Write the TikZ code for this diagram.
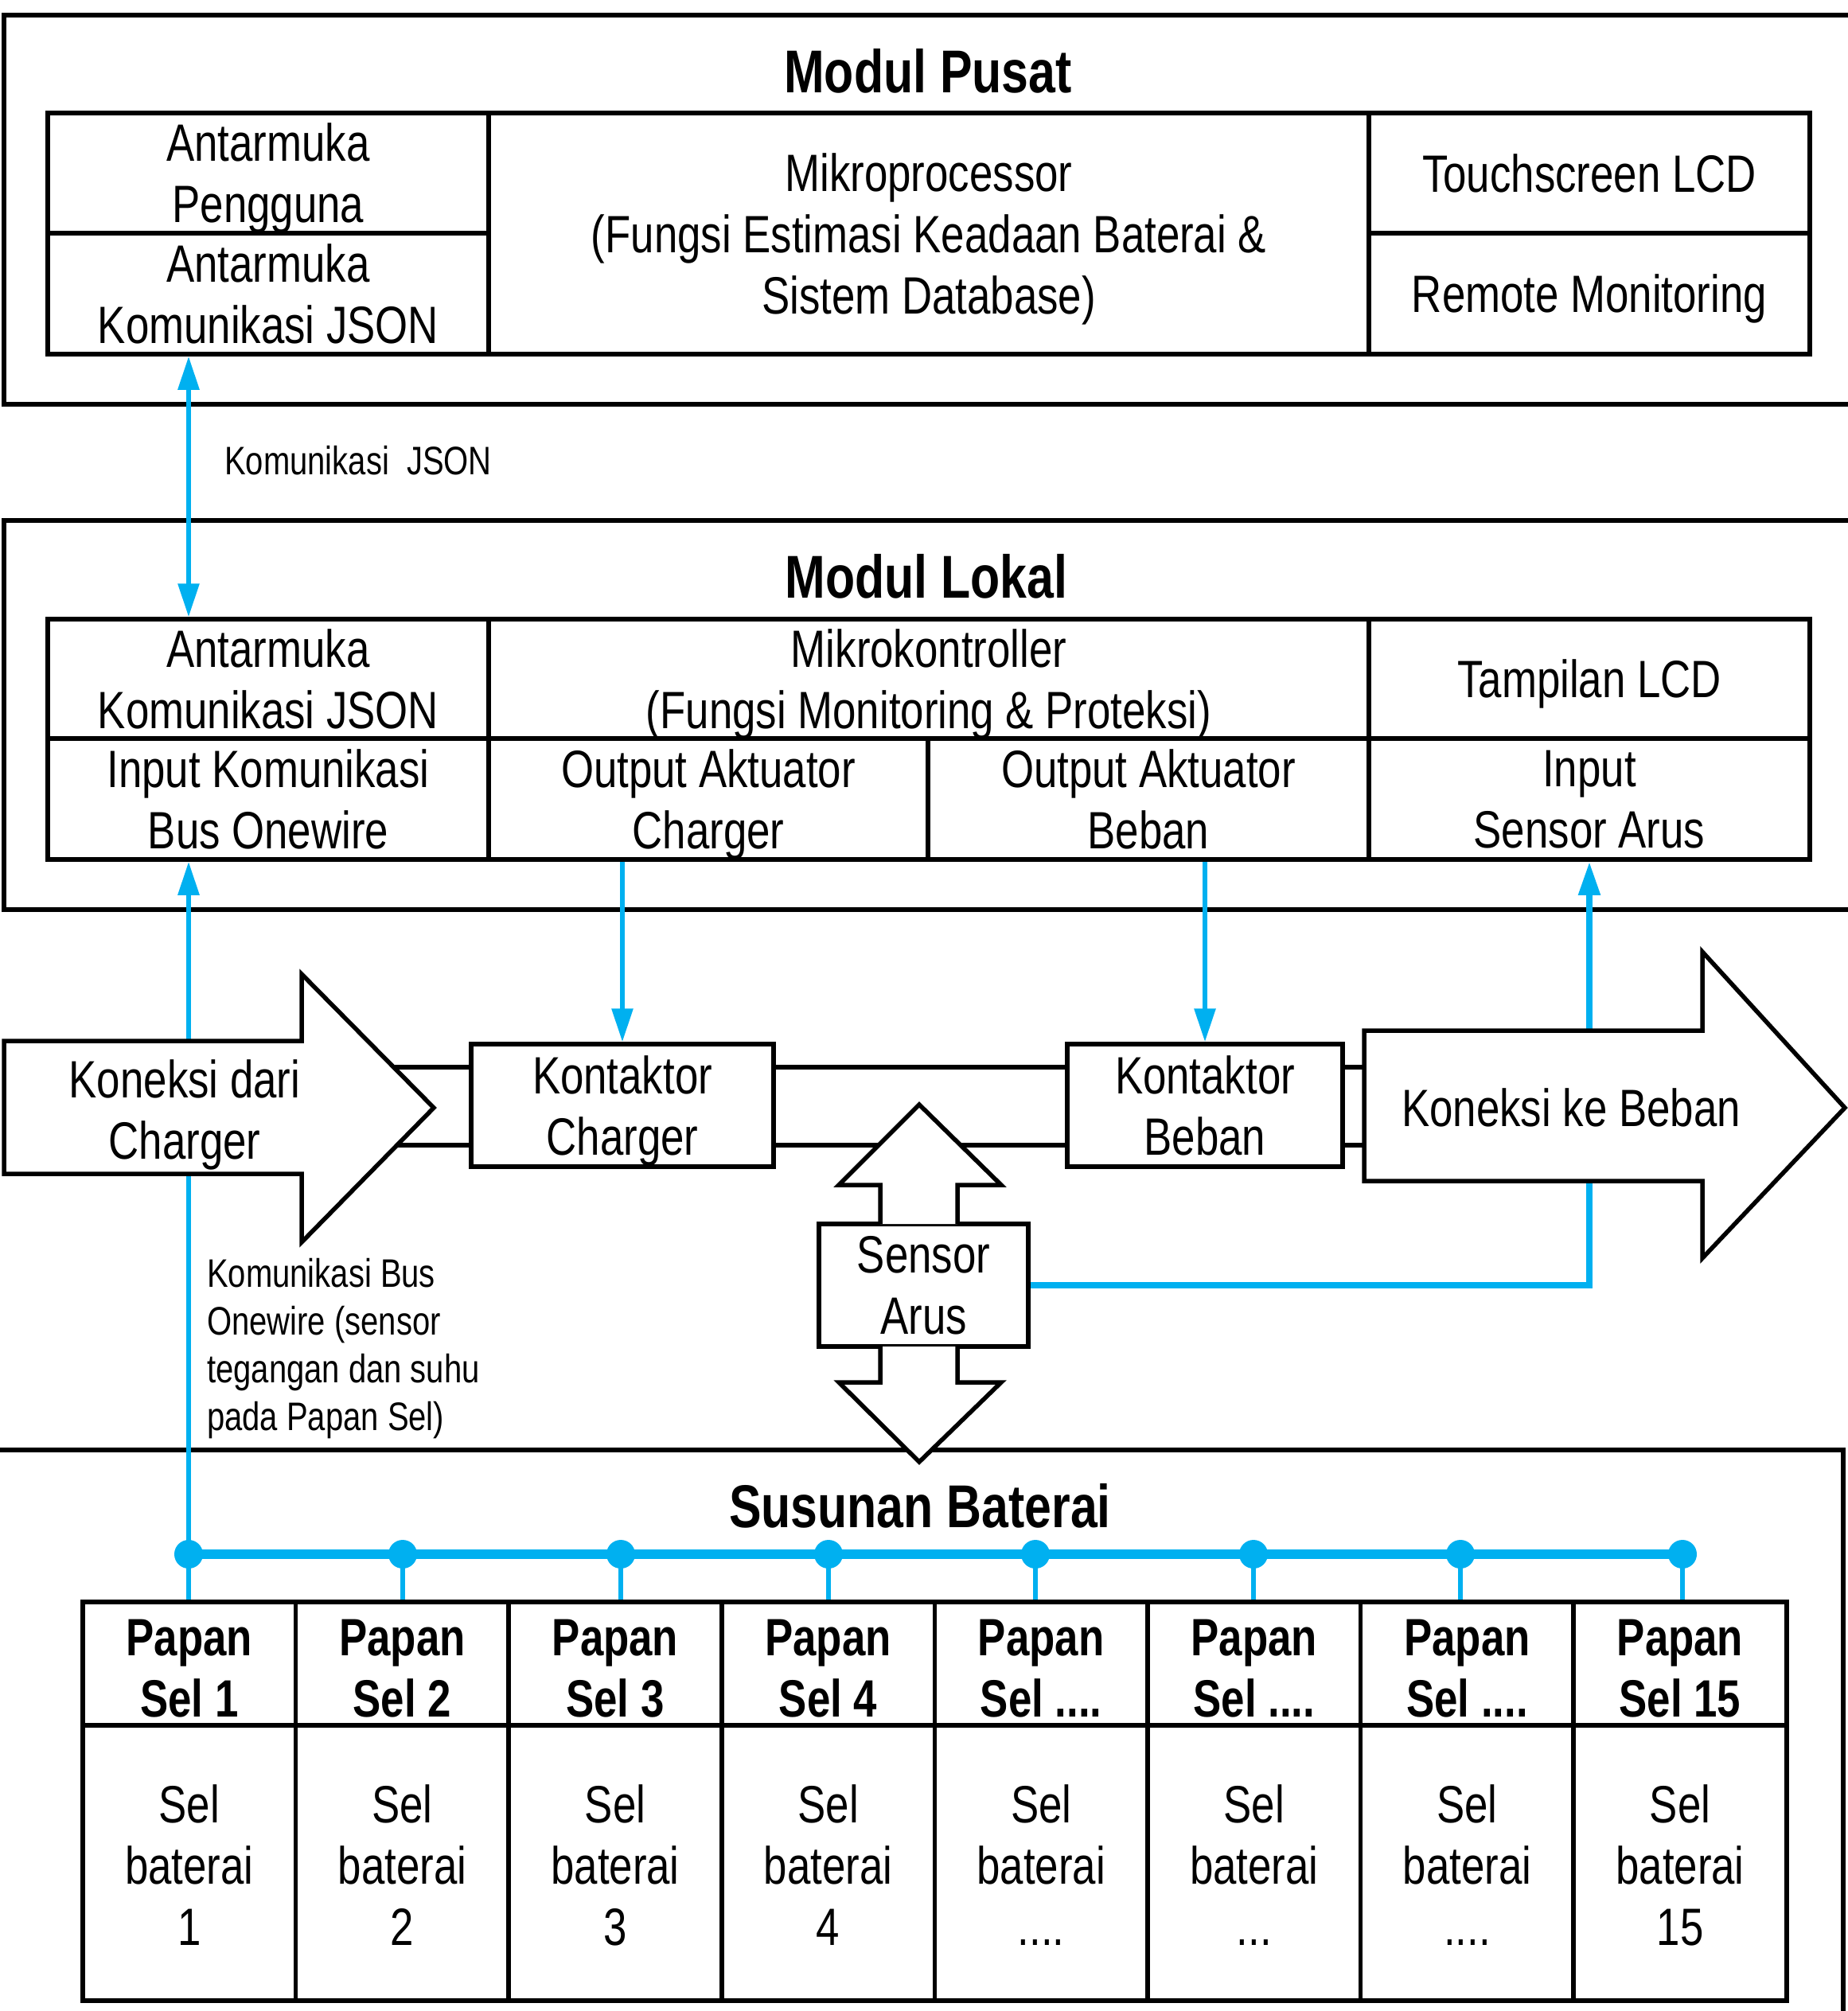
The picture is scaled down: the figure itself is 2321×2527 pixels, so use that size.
\documentclass[tikz,border=0pt]{standalone}
\usepackage{fontspec}
\setmainfont[FakeStretch=0.8]{Liberation Sans}
\usetikzlibrary{arrows.meta,calc}
\definecolor{bluec}{HTML}{00B0F0}
\newcommand\ftitle{\fontsize{76}{90}\selectfont\bfseries}
\newcommand\fbody{\fontsize{66}{77}\selectfont}
\newcommand\fsmall{\fontsize{50}{60}\selectfont}
\begin{document}
\begin{tikzpicture}[x=1pt,y=-1pt,
  box/.style={draw, line width=5.5pt},
  cell/.style={draw, line width=5.5pt, rectangle, inner sep=0pt, align=center, font=\fbody, text depth=0pt},
  wire/.style={line width=5.5pt},
  shp/.style={draw, line width=5.5pt, fill=white, line join=miter},
  blu/.style={draw=bluec, line width=6pt},
  tip/.style={-{Triangle[length=42pt,width=26pt]}},
  dtip/.style={{Triangle[length=42pt,width=26pt]}-{Triangle[length=42pt,width=26pt]}},
  lbl/.style={inner sep=0pt, align=center, font=\fbody, text depth=0pt}]
\useasboundingbox (0,0) rectangle (2321,2527);

% ---------- Modul Pusat ----------
\draw[box] (5,19) rectangle (2420,508);
\node[inner sep=0pt, font=\ftitle] (tpusat) at (1166,89) {Modul Pusat};
\node[cell, minimum width=554pt, minimum height=151pt] (pAU) at (337,217.5) {Antarmuka\\Pengguna};
\node[cell, minimum width=554pt, minimum height=152pt] (pAK) at (337,369) {Antarmuka\\Komunikasi JSON};
\node[cell, minimum width=1106pt, minimum height=303pt] (pMP) at (1167,293.5) {Mikroprocessor\\(Fungsi Estimasi Keadaan Baterai \&\\Sistem Database)};
\node[cell, minimum width=554pt, minimum height=151pt] (pLCD) at (1997,217.5) {Touchscreen LCD};
\node[cell, minimum width=554pt, minimum height=152pt] (pRM) at (1997,369) {Remote Monitoring};

% ---------- Modul Lokal ----------
\draw[box] (5,654) rectangle (2420,1143);
\node[inner sep=0pt, font=\ftitle] (tlokal) at (1164,724) {Modul Lokal};
\node[cell, minimum width=554pt, minimum height=150pt] (lAK) at (337,853) {Antarmuka\\Komunikasi JSON};
\node[cell, minimum width=1106pt, minimum height=150pt] (lMK) at (1167,853) {Mikrokontroller\\(Fungsi Monitoring \& Proteksi)};
\node[cell, minimum width=554pt, minimum height=150pt] (lLCD) at (1997,853) {Tampilan LCD};
\node[cell, minimum width=554pt, minimum height=152pt] (lIK) at (337,1004) {Input Komunikasi\\Bus Onewire};
\node[cell, minimum width=552pt, minimum height=152pt] (lOC) at (890,1004) {Output Aktuator\\Charger};
\node[cell, minimum width=554pt, minimum height=152pt] (lOB) at (1443,1004) {Output Aktuator\\Beban};
\node[cell, minimum width=554pt, minimum height=152pt] (lIS) at (1997,1004) {Input\\Sensor Arus};

% ---------- Susunan Baterai ----------
\draw[box] (-10,1822) rectangle (2316,2620);
\node[inner sep=0pt, font=\ftitle] (tsusun) at (1156,1892) {Susunan Baterai};

\foreach \i/\dx/\h/\b in {1/237/{Sel 1}/1, 2/506/{Sel 2}/2, 3/780/{Sel 3}/3, 4/1041/{Sel 4}/4,
  5/1301/{Sel ....}/{....}, 6/1575/{Sel ....}/{...}, 7/1835/{Sel ....}/{....}, 8/2114/{Sel 15}/15}{
  \pgfmathsetmacro\cx{104+267.6*(\i-1)+133.8}
  \node[cell, minimum width=267.6pt, minimum height=155pt] (h\i) at (\cx,2090.5) {};
  \node[lbl, font=\fbody\bfseries] (ht\i) at ([yshift=-6pt]h\i.center) {Papan\\\h};
  \node[cell, minimum width=267.6pt, minimum height=346pt] (b\i) at (\cx,2341) {};
  \node[lbl] (bt\i) at ([yshift=-3pt]b\i.center) {Sel\\baterai\\\b};
  \coordinate (d\i) at (\dx,1953);
}

% ---------- middle: kontaktor & sensor ----------
\node[cell, minimum width=380pt, minimum height=154pt] (kc) at (782,1389) {Kontaktor\\Charger};
\node[cell, minimum width=346pt, minimum height=154pt] (kb) at (1514,1389) {Kontaktor\\Beban};
\node[cell, minimum width=263pt, minimum height=154pt] (sa) at (1160.5,1615) {Sensor\\Arus};

% black power wires
\draw[wire] ([yshift=48pt]kc.west) -- ++(-230,0);
\draw[wire] ([yshift=-50pt]kc.west) -- ++(-230,0);
\draw[wire] ([yshift=48pt]kc.east) -- ([yshift=48pt]kb.west);
\draw[wire] ([yshift=-50pt]kc.east) -- ([yshift=-50pt]kb.west);
\draw[wire] ([yshift=48pt]kb.east) -- ++(40,0);
\draw[wire] ([yshift=-50pt]kb.east) -- ++(40,0);

% blue connectors
\draw[blu, dtip] (pAK.south -| d1) -- (lAK.north -| d1);
\node[anchor=west, inner sep=0pt, font=\fsmall] (ljson) at (282,579) {Komunikasi\ \ JSON};
\draw[blu, tip] (d1) -- (d1 |- lIK.south);
\draw[blu, tip] (lOC.south -| kc.north) -- (kc.north);
\draw[blu, tip] (lOB.south -| kb.north) -- (kb.north);
\draw[blu, tip, line width=8pt] (sa.east) -| (lIS.south);
\draw[draw=bluec, line width=12pt] (d1) -- (d8);
\foreach \i in {1,...,8}{
  \draw[blu] (d\i) -- (d\i |- h\i.north);
  \fill[bluec] (d\i) circle (18pt);
}
\node[anchor=west, inner sep=0pt, align=left, font=\fsmall, text depth=0pt] (lbus) at (260,1689) {Komunikasi Bus\\Onewire (sensor\\tegangan dan suhu\\pada Papan Sel)};

% big arrows
\draw[shp] (5,1308) -- (379,1308) -- (379,1224) -- (545,1392) -- (379,1561) -- (379,1475) -- (5,1475) -- cycle;
\node[lbl] (kdc) at (232,1394) {Koneksi dari\\Charger};
\draw[shp] (1714,1295) -- (2139,1295) -- (2139,1196) -- (2318,1392) -- (2139,1581) -- (2139,1484) -- (1714,1484) -- cycle;
\node[lbl] (kkb) at (1974,1392) {Koneksi ke Beban};

% sensor double arrow
\draw[shp] (1106,1538) -- (1106,1489) -- (1054,1489) -- (1155,1388) -- (1258,1489) -- (1203,1489) -- (1203,1538);
\draw[shp] (1106,1692) -- (1106,1737) -- (1054,1737) -- (1155,1837) -- (1258,1737) -- (1203,1737) -- (1203,1692);
\end{tikzpicture}
\end{document}
